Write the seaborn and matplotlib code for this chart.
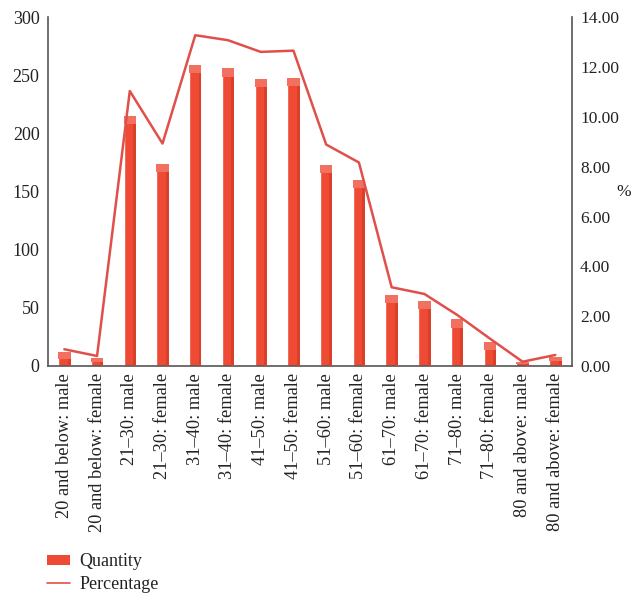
import matplotlib
matplotlib.use("Agg")
import matplotlib.pyplot as plt
import seaborn as sns
import pandas as pd
import numpy as np
from matplotlib.patches import Patch
from matplotlib.lines import Line2D

groups = ["20 and below: male", "20 and below: female", "21\u201330: male", "21\u201330: female",
          "31\u201340: male", "31\u201340: female", "41\u201350: male", "41\u201350: female",
          "51\u201360: male", "51\u201360: female", "61\u201370: male", "61\u201370: female",
          "71\u201380: male", "71\u201380: female", "80 and above: male", "80 and above: female"]
quantity = [12, 7, 215, 174, 259, 256, 247, 248, 173, 160, 61, 56, 40, 21, 3, 8]
percentage = [0.67, 0.40, 11.04, 8.93, 13.28, 13.08, 12.61, 12.66,
              8.89, 8.17, 3.16, 2.89, 2.05, 1.10, 0.17, 0.44]

df = pd.DataFrame({"group": groups, "quantity": quantity, "percentage": percentage})

sns.set_theme(style="white")
plt.rcParams["font.family"] = ["Liberation Serif", "DejaVu Serif"]

face = "#EE4A34"
side = "#D8402C"
cap = "#F2705F"
line_col = "#E0504A"
txt = "#222222"

fig = plt.figure(figsize=(6.31, 5.96), dpi=100)
ax = fig.add_axes([0.076, 0.386, 0.830, 0.585])

bw = 0.38
sns.barplot(data=df, x="group", y="quantity", color=face, width=bw,
            saturation=1, ax=ax, order=groups)

# shaded right side and lighter top cap for a raised look
xs = np.arange(len(groups))
q = np.array(quantity, dtype=float)
cap_h = np.minimum(7.0, q * 0.5)
ax.bar(xs + bw / 2 - 0.045, q, width=0.09, color=side, linewidth=0, zorder=3)
ax.bar(xs, cap_h, bottom=q - cap_h, width=bw, color=cap, linewidth=0, zorder=4)

ax.set_xlim(-0.5, len(groups) - 0.5)
ax.set_ylim(0, 300)
ax.set_yticks(range(0, 301, 50))
ax.set_xlabel("")
ax.set_ylabel("")
ax.tick_params(axis="y", length=0, labelsize=13, colors=txt, pad=6)
ax.tick_params(axis="x", length=0, labelsize=13.2, colors=txt, pad=5)
ax.set_xticks(xs)
ax.set_xticklabels(groups, rotation=90)
for s in ["top", "right"]:
    ax.spines[s].set_visible(False)
for s in ["left", "bottom"]:
    ax.spines[s].set_color("#555555")
    ax.spines[s].set_linewidth(1.2)

ax2 = ax.twinx()
sns.lineplot(x=xs, y=percentage, color=line_col, linewidth=1.8, ax=ax2)
ax2.set_ylim(0, 14)
ax2.set_yticks(np.arange(0, 14.01, 2))
ax2.set_yticklabels([f"{v:.2f}" for v in np.arange(0, 14.01, 2)])
ax2.tick_params(axis="y", length=0, labelsize=12.5, colors=txt, pad=6)
ax2.set_ylabel("")
for s in ["top", "left", "bottom"]:
    ax2.spines[s].set_visible(False)
ax2.spines["right"].set_color("#555555")
ax2.spines["right"].set_linewidth(1.2)
fig.text(0.988, 1 - 192 / 596, "%", ha="center", va="center",
         fontsize=12.5, color=txt)

handles = [Patch(facecolor=face, edgecolor="none"),
           Line2D([0], [0], color=line_col, linewidth=1.2)]
fig.legend(handles, ["Quantity", "Percentage"], loc="lower left",
           bbox_to_anchor=(0.049, -0.022), frameon=False, fontsize=13,
           handlelength=1.25, handleheight=0.45, handletextpad=0.55,
           labelspacing=0.3, labelcolor=txt)

fig.savefig("out.png", dpi=100)
